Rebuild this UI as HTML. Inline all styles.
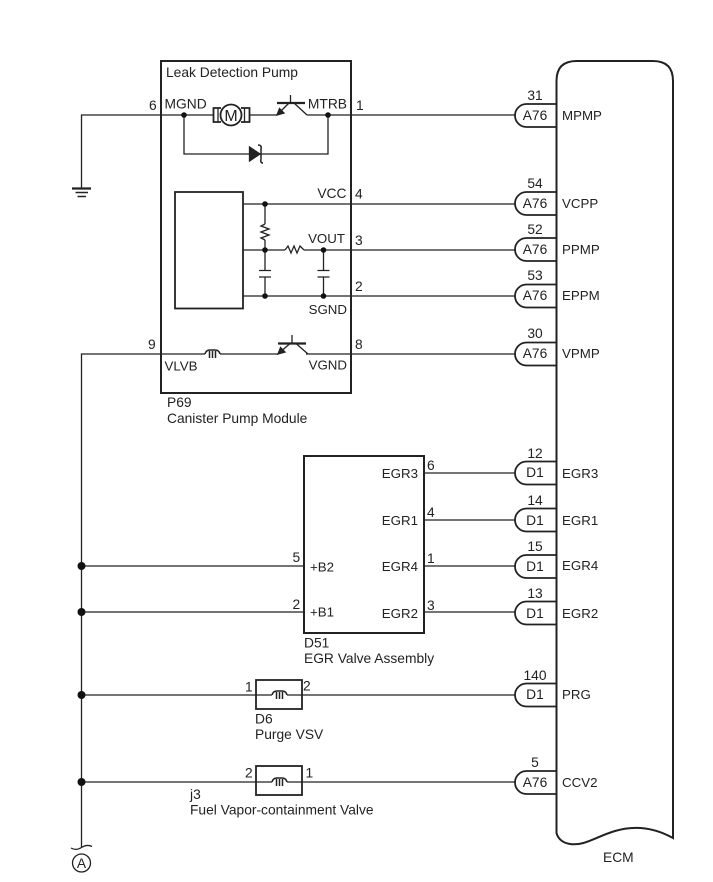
<!DOCTYPE html>
<html><head><meta charset="utf-8">
<style>html,body{margin:0;padding:0;background:#fff}svg{display:block}
text{font-family:"Liberation Sans",Arial,sans-serif;font-size:13.8px;fill:#222}
.m{text-anchor:middle}.e{text-anchor:end}.s{font-size:13.3px}</style></head>
<body>
<svg width="713" height="882" viewBox="0 0 713 882" xmlns="http://www.w3.org/2000/svg">
<g fill="none" stroke="#222" stroke-width="1.3">
<!-- boxes -->
<rect x="161" y="61" width="190" height="332" stroke-width="2"/>
<rect x="175" y="192" width="68" height="116.500" stroke-width="1.800"/>
<rect x="304" y="456" width="120" height="177" stroke-width="2"/>
<rect x="256" y="680" width="46" height="29" stroke-width="1.800"/>
<rect x="256" y="766" width="46" height="29" stroke-width="1.800"/>
<!-- ECM -->
<path d="M556.500 833V81Q556.500 61 576.500 61H653Q673 61 673 81V838C655 828 635 825 615 831C595 837 585 846 570 844C563 843 558 839 556.500 833Z" stroke-width="2"/>
<!-- wires -->
<path d="M81.500 188V115H213M250 115H277M307 115H515"/>
<path d="M184 115V154H328V115"/>
<path d="M243 204H515M243 250H285M304 250H515M243 296H515"/>
<path d="M265 204V224M265 240V270.500M265 277V296M323.500 250V270.500M323.500 277V296"/>
<path d="M259 270.500H271M259 277H271M317.500 270.500H329.500M317.500 277H329.500"/>
<path d="M265 224L261 226L269 229L261 232L269 235L261 238L265 240"/>
<path d="M285 250L288 246L291 253L294 246L297 253L300 246L304 250"/>
<path d="M81.500 847V354H205M220 354H278M306 354H515"/>
<path d="M81.500 566H304M81.500 612H304"/>
<path d="M424 473H515M424 520H515M424 566H515M424 612H515"/>
<path d="M81.500 695H272M287 695H515M81.500 782H272M287 782H515"/>
<!-- ground -->
<path d="M72 188.500H91" stroke-width="2.200"/><path d="M75.500 192.500H88" stroke-width="1.500"/><path d="M77.500 196.500H86" stroke-width="1.500"/>
<!-- motor -->
<circle cx="231" cy="115" r="10.500" fill="#fff" stroke-width="1.800"/>
<path d="M221 108H213.500V122H221M241 108H249.500V122H241" stroke-width="1.800"/>
<path d="M218 108V122M244.500 108V122" stroke-width="1.300"/>
<!-- transistors -->
<path d="M277 103H305" stroke-width="2.200"/><path d="M290.500 95V103M294 103L307 115M289 103L277 115"/>
<path d="M277 115L279.500 108.500L284 113Z" fill="#222"/>
<path d="M278 343.500H306" stroke-width="2.200"/><path d="M292 335V343.500M296 343.500L308 354M290 343.500L278 354"/>
<path d="M278 354L280.500 347.500L285 352Z" fill="#222"/>
<!-- diode -->
<path d="M249.500 147V161L260 154Z" fill="#222"/>
<path d="M258 145Q262 145 261 149V159Q260 163 263 163" stroke-width="1.500"/>
<!-- coils -->
<path d="M205 354Q206 350 210 350Q213 350 215 350Q219 350 220 354" stroke-width="1.500"/>
<path d="M209.500 351V358M212.500 351V358M215.500 351V358" stroke-width="1.500"/>
<path d="M272 695Q273 691 277 691Q280 691 282 691Q286 691 287 695" stroke-width="1.500"/>
<path d="M276.500 692V699M279.500 692V699M282.500 692V699" stroke-width="1.500"/>
<path d="M272 782Q273 778 277 778Q280 778 282 778Q286 778 287 782" stroke-width="1.500"/>
<path d="M276.500 779V786M279.500 779V786M282.500 779V786" stroke-width="1.500"/>
<!-- squiggle + A -->
<path d="M71 848Q76 851 81.500 847.500Q87 844 92 846.500"/>
<circle cx="81.500" cy="863" r="9"/>
<!-- pills -->
<g fill="#fff" stroke-width="1.800">
<path d="M556 104H526.500a11.500 11.500 0 0 0 0 23H556"/>
<path d="M556 192H526.500a11.500 11.500 0 0 0 0 23H556"/>
<path d="M556 238H526.500a11.500 11.500 0 0 0 0 23H556"/>
<path d="M556 284.500H526.500a11.500 11.500 0 0 0 0 23H556"/>
<path d="M556 342.500H526.500a11.500 11.500 0 0 0 0 23H556"/>
<path d="M556 461.500H526.500a11.500 11.500 0 0 0 0 23H556"/>
<path d="M556 508.500H526.500a11.500 11.500 0 0 0 0 23H556"/>
<path d="M556 555H526.500a11.500 11.500 0 0 0 0 23H556"/>
<path d="M556 601.500H526.500a11.500 11.500 0 0 0 0 23H556"/>
<path d="M556 683.500H526.500a11.500 11.500 0 0 0 0 23H556"/>
<path d="M556 771H526.500a11.500 11.500 0 0 0 0 23H556"/>
</g>
<path d="M556.500 90V833" stroke-width="2"/>
</g>
<!-- dots -->
<g fill="#111">
<circle cx="184" cy="115" r="2.800"/><circle cx="328" cy="115" r="2.800"/>
<circle cx="265" cy="204" r="2.800"/><circle cx="265" cy="250" r="2.800"/><circle cx="265" cy="296" r="2.800"/>
<circle cx="323.500" cy="250" r="2.800"/><circle cx="323.500" cy="296" r="2.800"/>
<circle cx="81.500" cy="566" r="4"/><circle cx="81.500" cy="612" r="4"/><circle cx="81.500" cy="695" r="4"/><circle cx="81.500" cy="782" r="4"/>
</g>
<!-- text -->
<text x="166" y="77">Leak Detection Pump</text>
<text x="164.500" y="108.500">MGND</text><text x="347" y="108.500" class="e">MTRB</text>
<text x="231" y="121" class="m" style="font-size:16px">M</text>
<text x="149" y="110">6</text><text x="356" y="110">1</text>
<text x="346.500" y="198" class="e">VCC</text><text x="355" y="198.500">4</text>
<text x="345" y="243" class="e s">VOUT</text><text x="355" y="245">3</text>
<text x="355" y="291">2</text>
<text x="347" y="314" class="e s">SGND</text>
<text x="148" y="349">9</text><text x="355" y="349">8</text>
<text x="164.500" y="370.500" class="s">VLVB</text><text x="347" y="369.500" class="e s">VGND</text>
<text x="167" y="407">P69</text><text x="167" y="423">Canister Pump Module</text>
<text x="427" y="470">6</text><text x="427" y="517">4</text><text x="427" y="563">1</text><text x="427" y="610">3</text>
<g class="s"><text x="418" y="478" class="e s">EGR3</text><text x="418" y="525" class="e s">EGR1</text><text x="418" y="571" class="e s">EGR4</text><text x="418" y="618" class="e s">EGR2</text></g>
<text x="292.500" y="562">5</text><text x="292.500" y="609">2</text>
<text x="310" y="571.500" class="s">+B2</text><text x="310" y="616.500" class="s">+B1</text>
<text x="304" y="647.500">D51</text><text x="304" y="663">EGR Valve Assembly</text>
<text x="245" y="691.500">1</text><text x="303" y="690.500">2</text>
<text x="255" y="723.500">D6</text><text x="255" y="739">Purge VSV</text>
<text x="245" y="777.500">2</text><text x="305.500" y="777.500">1</text>
<text x="190" y="799">j3</text><text x="190" y="814.500">Fuel Vapor-containment Valve</text>
<text x="81.500" y="868" class="m">A</text>
<g text-anchor="middle">
<text x="535" y="100">31</text><text x="535" y="120">A76</text>
<text x="535" y="188">54</text><text x="535" y="208">A76</text>
<text x="535" y="234">52</text><text x="535" y="254">A76</text>
<text x="535" y="280">53</text><text x="535" y="300">A76</text>
<text x="535" y="338">30</text><text x="535" y="358">A76</text>
<text x="535" y="458">12</text><text x="535" y="477">D1</text>
<text x="535" y="505">14</text><text x="535" y="525">D1</text>
<text x="535" y="551">15</text><text x="535" y="571">D1</text>
<text x="535" y="598">13</text><text x="535" y="618">D1</text>
<text x="535" y="680">140</text><text x="535" y="699">D1</text>
<text x="535" y="767">5</text><text x="535" y="787">A76</text>
</g>
<text x="562" y="120" class="s">MPMP</text><text x="562" y="208" class="s">VCPP</text><text x="562" y="254" class="s">PPMP</text><text x="562" y="300" class="s">EPPM</text><text x="562" y="358" class="s">VPMP</text>
<text x="562" y="478" class="s">EGR3</text><text x="562" y="525" class="s">EGR1</text><text x="562" y="570" class="s">EGR4</text><text x="562" y="618" class="s">EGR2</text><text x="562" y="699" class="s">PRG</text><text x="562" y="787" class="s">CCV2</text>
<text x="603" y="862">ECM</text>
</svg>
</body></html>
